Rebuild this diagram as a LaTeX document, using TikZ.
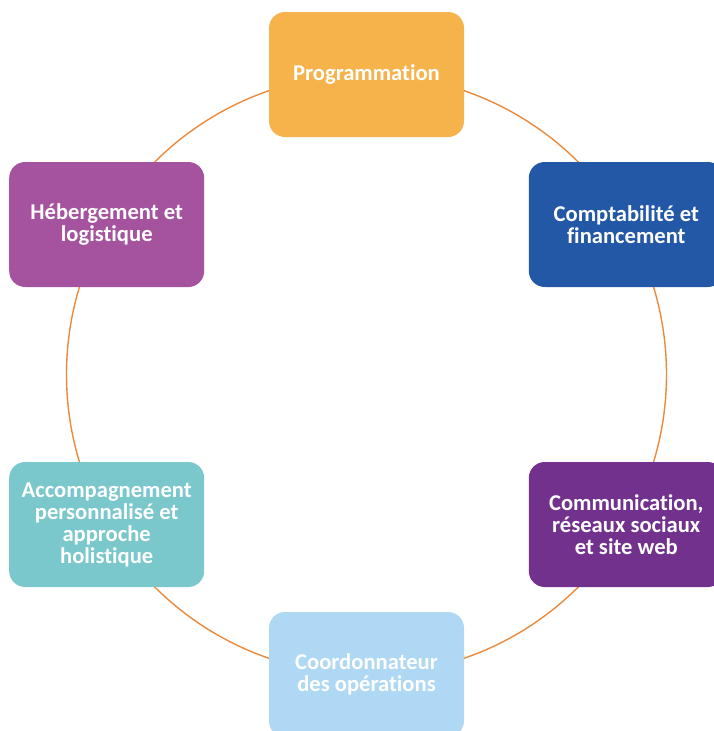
\documentclass[tikz,border=0pt]{standalone}
\usepackage{fontspec}
\setmainfont[Ligatures=NoCommon]{Carlito}
\definecolor{cprog}{HTML}{F6B24B}
\definecolor{ccompta}{HTML}{2358A6}
\definecolor{ccomm}{HTML}{72318C}
\definecolor{ccoord}{HTML}{AED8F4}
\definecolor{caccomp}{HTML}{7AC7CC}
\definecolor{cheberg}{HTML}{A5529F}
\definecolor{cring}{HTML}{EB8A3C}
\tikzset{
  box/.style={rounded corners=16pt, minimum width=195pt, minimum height=125pt,
    inner sep=0pt, text=white, align=center,
    font=\fontsize{22.6}{22}\selectfont\bfseries},
  ring/.style={draw=cring, line width=1.4pt}
}
\begin{document}
\begin{tikzpicture}[x=1pt,y=-1pt]
\useasboundingbox (0,0) rectangle (714,731);
\clip (0,0) rectangle (714,731);
\coordinate (c) at (366.5,374.5);
\draw[ring] (c) circle[radius=300];
\node[box, fill=cprog]   (prog)   at (366.5,74.5)  {Programmation};
\node[box, fill=ccompta] (compta) at (626.3,224.5) {Comptabilité et\\financement};
\node[box, fill=ccomm]   (comm)   at (626.3,524.5) {Communication,\\réseaux sociaux\\et site web};
\node[box, fill=ccoord]  (coord)  at (366.5,674.5) {Coordonnateur\\des opérations};
\node[box, fill=caccomp] (accomp) at (106.7,524.5) {Accompagnement\\personnalisé et\\approche\\holistique};
\node[box, fill=cheberg] (heberg) at (106.7,224.5) {Hébergement et\\logistique};
\end{tikzpicture}
\end{document}
